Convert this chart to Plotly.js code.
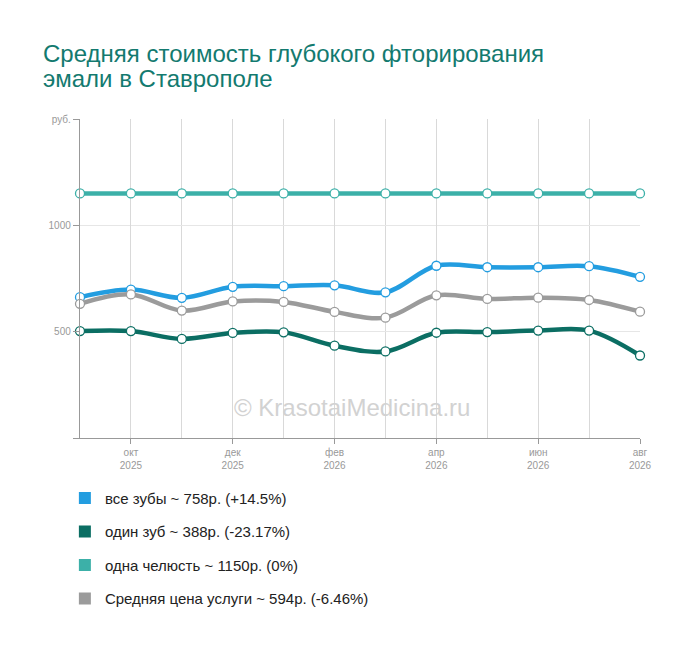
<!DOCTYPE html>
<html>
<head>
<meta charset="utf-8">
<script src="https://cdn.plot.ly/plotly-3.0.1.min.js"></script>
<style>html,body{margin:0;padding:0;background:#fff;}#chart{width:700px;height:650px;}</style>
</head>
<body>
<div id="chart"></div>
<script>
// Months (index positions 0..11 = сен 2025 .. авг 2026)
const months = ['сен 2025','окт 2025','ноя 2025','дек 2025','янв 2026','фев 2026','мар 2026','апр 2026','май 2026','июн 2026','июл 2026','авг 2026'];
const tickMonthIdx = [1,3,5,7,9,11];
const tickMonthText = ['окт<br>2025','дек<br>2025','фев<br>2026','апр<br>2026','июн<br>2026','авг<br>2026'];

const allTeeth = [662,698,659,711,714,718,685,810,803,803,808,758];
const oneTooth = [503,503,466,494,497,434,407,495,498,505,505,388];
const oneJaw   = [1150,1150,1150,1150,1150,1150,1150,1150,1150,1150,1150,1150];
const average  = [631,675,599,642,640,593,566,671,654,660,649,594];

const seriesNames = ['все зубы ~ 758р. (+14.5%)','один зуб ~ 388р. (-23.17%)','одна челюсть ~ 1150р. (0%)','Средняя цена услуги ~ 594р. (-6.46%)'];
const seriesColors = ['#239de0','#0b6e63','#3cb0a8','#9b9b9b'];
const seriesData = [allTeeth, oneTooth, oneJaw, average];

const titleLines = ['Средняя стоимость глубокого фторирования','эмали в Ставрополе'];

const yTickVals = [0,500,1000,1500];
const yTickText = ['','500','1000','руб.'];

const x = months.map((m,i)=>i);
const traces = [];
// draw order: teal, blue, gray, dark green
[2,0,3,1].forEach(k=>{
  traces.push({
    type:'scatter', mode:'lines+markers', x:x, y:seriesData[k], name:seriesNames[k],
    line:{shape:'spline', smoothing:1, width:4.5, color:seriesColors[k]},
    marker:{size:9, color:'#ffffff', line:{width:1.3, color:seriesColors[k]}},
    showlegend:false, hoverinfo:'skip', cliponaxis:false
  });
});
// legend entries
[0,1,2,3].forEach(k=>{
  traces.push({
    type:'bar', x:[null], y:[null], name:seriesNames[k],
    marker:{color:seriesColors[k]}, legendgroup:'g'+k, showlegend:true, hoverinfo:'skip'
  });
});

// plot area: top 119px, bottom 438px -> paper y = (438 - py)/319
const py = p => (438 - p)/319;
const px = p => (p - 80)/560;

const layout = {
  width:700, height:650,
  margin:{l:80, r:60, t:119, b:212},
  paper_bgcolor:'#ffffff', plot_bgcolor:'#ffffff',
  font:{family:'Arial, Liberation Sans, sans-serif', color:'#999'},
  xaxis:{
    range:[0,11], tickmode:'array', tickvals:tickMonthIdx, ticktext:tickMonthText,
    ticks:'outside', ticklen:5, tickcolor:'#999', tickfont:{size:10, color:'#999'},
    showgrid:true, gridcolor:'#d9d9d9', gridwidth:1,
    minor:{dtick:1, tick0:0, showgrid:true, gridcolor:'#d9d9d9', gridwidth:1},
    showline:true, linecolor:'#999', linewidth:1.2, zeroline:false, fixedrange:true
  },
  yaxis:{
    range:[0,1500], tickmode:'array', tickvals:yTickVals, ticktext:yTickText,
    ticks:'outside', ticklen:6, tickcolor:'#999', tickfont:{size:10, color:'#999'},
    showgrid:false,
    minor:{tickmode:'array', tickvals:[500,1000], showgrid:true, gridcolor:'#e6e6e6', gridwidth:1.5},
    showline:true, linecolor:'#999', linewidth:1.2, zeroline:false, fixedrange:true
  },
  showlegend:true,
  legend:{
    x:-0.027, xanchor:'left', y:-0.137, yanchor:'top', orientation:'v',
    font:{size:15, color:'#222', family:'Arial, Liberation Sans, sans-serif'},
    tracegroupgap:11, traceorder:'grouped', bgcolor:'rgba(0,0,0,0)'
  },
  annotations:[
    {text:titleLines[0], xref:'paper', yref:'paper', x:px(41), y:py(54), xanchor:'left', yanchor:'middle',
     showarrow:false, font:{size:24, color:'#137a6f', family:'Arial, Liberation Sans, sans-serif'}},
    {text:titleLines[1], xref:'paper', yref:'paper', x:px(41), y:py(78), xanchor:'left', yanchor:'middle',
     showarrow:false, font:{size:24, color:'#137a6f', family:'Arial, Liberation Sans, sans-serif'}},
    {text:'© KrasotaiMedicina.ru', xref:'paper', yref:'paper', x:0.486, y:0.046,
     showarrow:false, font:{size:24, color:'#d2d2d2', family:'Arial, Liberation Sans, sans-serif'}}
  ]
};

Plotly.newPlot('chart', traces, layout, {displayModeBar:false, staticPlot:true});
</script>
</body>
</html>
